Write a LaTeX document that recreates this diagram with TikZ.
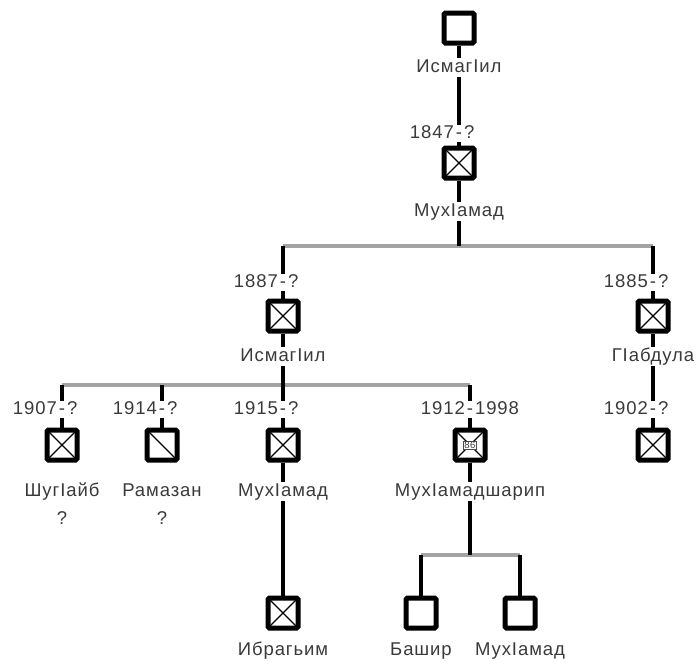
\documentclass[tikz,border=0pt]{standalone}
\usepackage{fontspec}
\setmainfont{Liberation Sans}[LetterSpace=5]
\definecolor{txt}{HTML}{3A3A3A}
\definecolor{barc}{HTML}{A3A3A3}
\pgfdeclarelayer{bg}
\pgfsetlayers{bg,main}
\newcommand\lifespan[2]{\llap{#1\kern2pt}-\rlap{\kern2pt #2}}
\begin{document}
\begin{tikzpicture}[x=1pt,y=-1pt,
  person/.style={draw=black, line width=5pt, fill=white, minimum size=30pt, inner sep=0pt, rounded corners=1.5pt},
  dead/.style={person, path picture={\draw[line width=1.1pt] (path picture bounding box.north west) -- (path picture bounding box.south east) (path picture bounding box.south west) -- (path picture bounding box.north east);}},
  half/.style={person, path picture={\draw[line width=1.1pt] (path picture bounding box.north west) -- (path picture bounding box.south east);}},
  lbl/.style={fill=white, inner sep=1pt, text=txt, font=\fontsize{18.5}{20}\selectfont, text height=13.5pt, text depth=3.5pt},
  dates/.style={lbl, inner sep=0pt, minimum width=8pt},
  conn/.style={line width=4pt, black},
  sib/.style={line width=3.5pt, barc},
  ]
\useasboundingbox (0,0) rectangle (696,664);

% persons
\node[person] (p0) at (459,28) {};
\node[dead] (p1) at (459,163) {};
\node[dead] (p2) at (283,316) {};
\node[dead] (p3) at (653,316) {};
\node[dead] (p4) at (62,445) {};
\node[half] (p5) at (162,445) {};
\node[dead] (p6) at (283,445) {};
\node[dead] (p7) at (470,445) {};
\node[dead] (p8) at (653,445) {};
\node[dead] (p9) at (283,613) {};
\node[person] (p10) at (421,613) {};
\node[person] (p11) at (520,613) {};
\node[draw=black!70, line width=0.5pt, fill=white, inner sep=0.8pt, text=txt, font=\fontsize{9.5}{9.5}\selectfont] (age7) at (p7) {86};

% junctions
\coordinate (j1) at (459,246);
\coordinate (j2) at (283,385);
\coordinate (j3) at (470,555);

% names
\node[lbl] (n0) at (459,67) {ИсмагIил};
\node[lbl] (n1) at (459,211) {МухIамад};
\node[lbl] (n2) at (283,356) {ИсмагIил};
\node[lbl] (n3) at (653,356) {ГIабдула};
\node[lbl] (n4) at (62,491) {ШугIайб};
\node[lbl] (q4) at (62,519) {?};
\node[lbl] (n5) at (162,491) {Рамазан};
\node[lbl] (q5) at (162,519) {?};
\node[lbl] (n6) at (283,491) {МухIамад};
\node[lbl] (n7) at (470,491) {МухIамадшарип};
\node[lbl] (n9) at (283,650) {Ибрагьим};
\node[lbl] (n10) at (421,650) {Башир};
\node[lbl] (n11) at (520,650) {МухIамад};

% dates
\node[dates] (d1) at (459,133) {\lifespan{1847}{?}};
\node[dates] (d2) at (283,282) {\lifespan{1887}{?}};
\node[dates] (d3) at (653,282) {\lifespan{1885}{?}};
\node[dates] (d4) at (62,409) {\lifespan{1907}{?}};
\node[dates] (d5) at (162,409) {\lifespan{1914}{?}};
\node[dates] (d6) at (283,409) {\lifespan{1915}{?}};
\node[dates] (d7) at (470,409) {\lifespan{1912}{1998}};
\node[dates] (d8) at (653,409) {\lifespan{1902}{?}};

\begin{pgfonlayer}{bg}
  % sibling bars
  \draw[sib] (p2 |- j1) -- (p3 |- j1);
  \draw[sib] (p4 |- j2) -- (p7 |- j2);
  \draw[sib] (p10 |- j3) -- (p11 |- j3);
  % connectors
  \draw[conn] (p0) -- (p1);
  \draw[conn] (p1) -- (j1);
  \draw[conn] (p2 |- j1) -- (p2);
  \draw[conn] (p3 |- j1) -- (p3);
  \draw[conn] (p3) -- (p8);
  \draw[conn] (p2) -- (j2);
  \draw[conn] (p4 |- j2) -- (p4);
  \draw[conn] (p5 |- j2) -- (p5);
  \draw[conn] (j2) -- (p6);
  \draw[conn] (p7 |- j2) -- (p7);
  \draw[conn] (p6) -- (p9);
  \draw[conn] (p7) -- (j3);
  \draw[conn] (p10 |- j3) -- (p10);
  \draw[conn] (p11 |- j3) -- (p11);
\end{pgfonlayer}
\end{tikzpicture}
\end{document}
